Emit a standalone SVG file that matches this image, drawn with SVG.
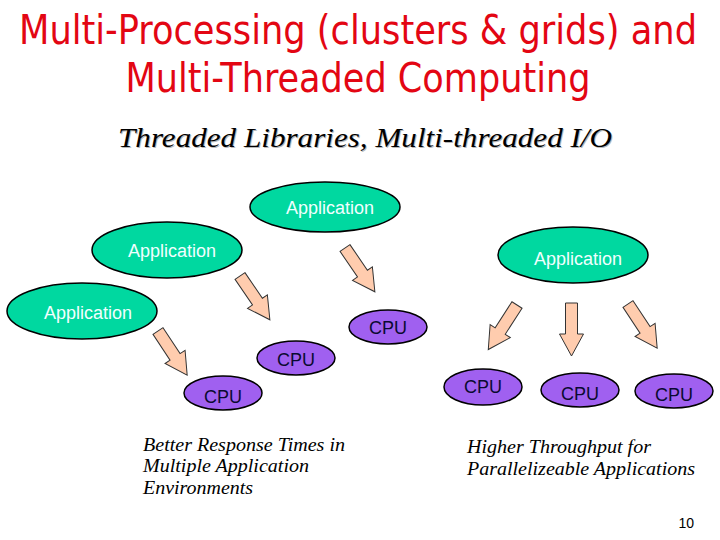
<svg xmlns="http://www.w3.org/2000/svg" width="720" height="540" viewBox="0 0 720 540">
<defs>
<style>
.title{font-family:"DejaVu Sans Condensed","DejaVu Sans","Liberation Sans",sans-serif;font-size:40px;fill:#E30613;text-anchor:middle}
.sub{font-family:"Liberation Serif",serif;font-style:italic;font-size:27px;text-anchor:middle}
.app{fill:#00D8A0;stroke:#000;stroke-width:1.5}
.cpu{fill:#A060F0;stroke:#000;stroke-width:1.5}
.apptxt{font-family:"Liberation Sans",Arial,sans-serif;font-size:18px;fill:#F0FFFF;text-anchor:middle}
.cputxt{font-family:"Liberation Sans",Arial,sans-serif;font-size:18px;fill:#0A0A30;text-anchor:middle}
.note{font-family:"Liberation Serif",serif;font-style:italic;font-size:18px;fill:#000}
.arr{fill:#FFCCAE;stroke:#333;stroke-width:1}
</style>
<path id="barrow" d="M0,-6 L31,-6 L31,-12 L53,0 L31,12 L31,6 L0,6 Z"/>
</defs>
<rect width="720" height="540" fill="#fff"/>
<g id="title">
<text class="title" x="358" y="44" textLength="678" lengthAdjust="spacingAndGlyphs">Multi-Processing (clusters &amp; grids) and</text>
<text class="title" x="358" y="92" textLength="465" lengthAdjust="spacingAndGlyphs">Multi-Threaded Computing</text>
</g>
<g id="subtitle">
<text class="sub" x="366" y="148" fill="#b8b8b8" textLength="494" lengthAdjust="spacingAndGlyphs">Threaded Libraries, Multi-threaded I/O</text>
<text class="sub" x="365" y="147" fill="#000" textLength="494" lengthAdjust="spacingAndGlyphs">Threaded Libraries, Multi-threaded I/O</text>
</g>
<g id="connectors">
<use href="#barrow" class="arr" transform="translate(158,331) rotate(56.6)"/>
<use href="#barrow" class="arr" transform="translate(240,276) rotate(55.7)"/>
<use href="#barrow" class="arr" transform="translate(345,248) rotate(55.7)"/>
<use href="#barrow" class="arr" transform="translate(517,305) rotate(122.8)"/>
<use href="#barrow" class="arr" transform="translate(571.5,303) rotate(90)"/>
<use href="#barrow" class="arr" transform="translate(628,304) rotate(56.6)"/>
</g>
<g id="app3"><ellipse class="app" cx="325" cy="207" rx="75" ry="25"/><text class="apptxt" x="330" y="214">Application</text></g>
<g id="app2"><ellipse class="app" cx="167" cy="250" rx="75" ry="28"/><text class="apptxt" x="172" y="257">Application</text></g>
<g id="app1"><ellipse class="app" cx="82" cy="311" rx="75" ry="28"/><text class="apptxt" x="88" y="319">Application</text></g>
<g id="appR"><ellipse class="app" cx="573" cy="255" rx="75" ry="28"/><text class="apptxt" x="578" y="265">Application</text></g>
<g id="cpu1"><ellipse class="cpu" cx="223" cy="393" rx="39" ry="17"/><text class="cputxt" x="223" y="403">CPU</text></g>
<g id="cpu2"><ellipse class="cpu" cx="296" cy="358" rx="39" ry="17"/><text class="cputxt" x="296" y="366">CPU</text></g>
<g id="cpu3"><ellipse class="cpu" cx="388" cy="327" rx="39" ry="17"/><text class="cputxt" x="388" y="334">CPU</text></g>
<g id="cpuA"><ellipse class="cpu" cx="483" cy="387" rx="39" ry="18"/><text class="cputxt" x="483" y="393">CPU</text></g>
<g id="cpuB"><ellipse class="cpu" cx="580" cy="390" rx="39" ry="17"/><text class="cputxt" x="580" y="400">CPU</text></g>
<g id="cpuC"><ellipse class="cpu" cx="674" cy="391" rx="39" ry="17"/><text class="cputxt" x="674" y="401">CPU</text></g>
<g id="note-left">
<text class="note" x="143" y="451" textLength="202" lengthAdjust="spacingAndGlyphs">Better Response Times in</text>
<text class="note" x="143" y="472" textLength="166" lengthAdjust="spacingAndGlyphs">Multiple Application</text>
<text class="note" x="143" y="494" textLength="110" lengthAdjust="spacingAndGlyphs">Environments</text>
</g>
<g id="note-right">
<text class="note" x="467" y="453" textLength="184" lengthAdjust="spacingAndGlyphs">Higher Throughput for</text>
<text class="note" x="467" y="475" textLength="228" lengthAdjust="spacingAndGlyphs">Parallelizeable Applications</text>
</g>
<text x="694" y="528" text-anchor="end" font-family="Liberation Sans,Arial,sans-serif" font-size="14" fill="#000">10</text>
</svg>
